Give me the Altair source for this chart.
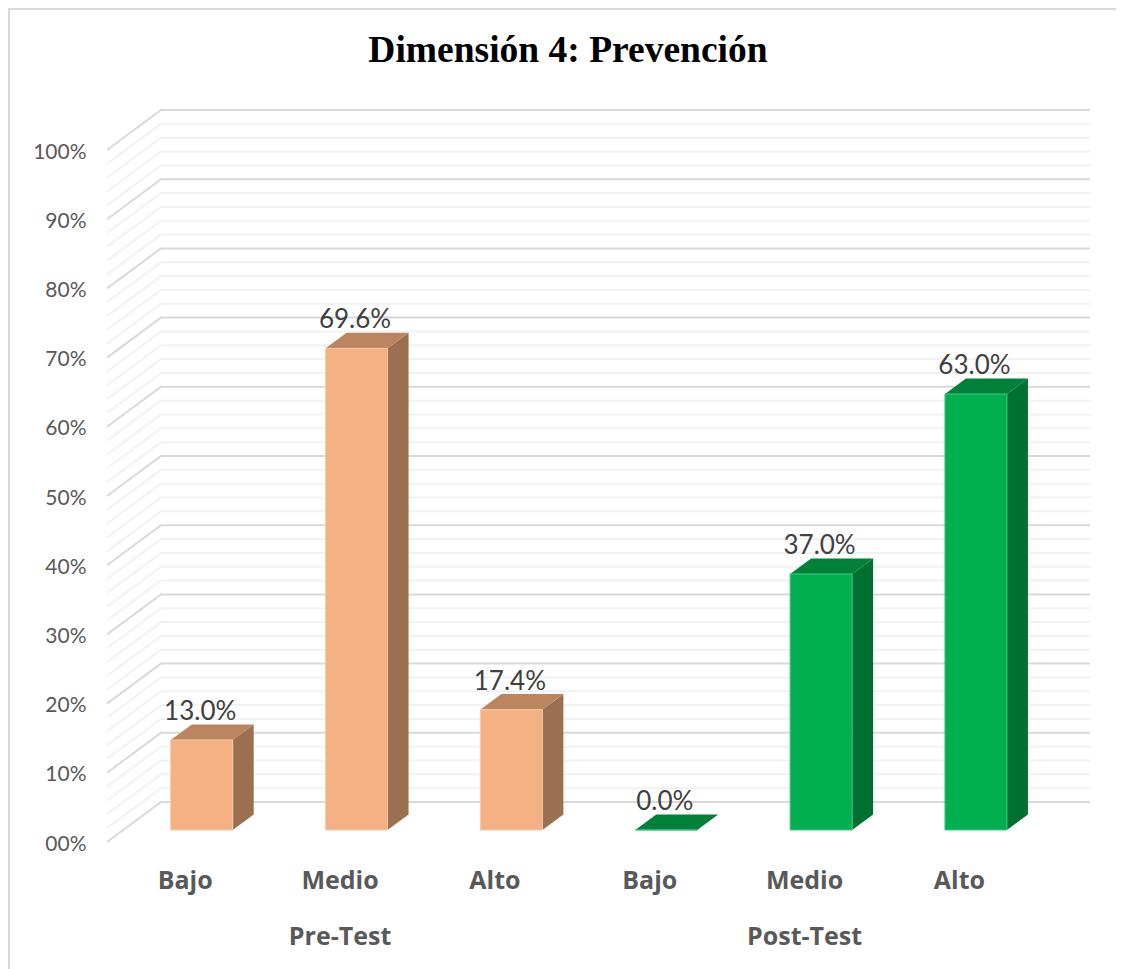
import altair as alt
import pandas as pd

# ---- data ----
groups = ["Pre-Test", "Post-Test"]
levels = ["Bajo", "Medio", "Alto", "Bajo", "Medio", "Alto"]
pre_values = [13.0, 69.6, 17.4]
post_values = [0.0, 37.0, 63.0]
tick_values = [0, 10, 20, 30, 40, 50, 60, 70, 80, 90, 100]
grid_values = list(range(0, 101, 2))

front_colors = ["#F4B183"] * 3 + ["#00B050"] * 3
side_colors = ["#9B7050"] * 3 + ["#007030"] * 3
top_colors = ["#BB8560"] * 3 + ["#008038"] * 3
edge_colors = ["#F8C8A8"] * 3 + ["#40C880"] * 3

# ---- layout of the scales (view is the whole page area) ----
W, H = 1108, 961
PX_X = 154.85   # pixels per category
PX_Y = 6.92     # pixels per percentage point
x0_view = 193.7  # first bar's centre
y0_bars = 822.0  # bars' zero line
y0_axis = 836.0  # axis zero line

x_dom = [-x0_view / PX_X, (W - x0_view) / PX_X]
y_dom_bars = [-(H - y0_bars) / PX_Y, y0_bars / PX_Y]
y_dom_axis = [-(H - y0_axis) / PX_Y, y0_axis / PX_Y]

half_w = 31 / PX_X
dep_x = 21 / PX_X
dep_y = 15.5 / PX_Y
wall_fx = (107 - 201.7) / PX_X
wall_bx = (161 - 201.7) / PX_X
wall_rx = (1090 - 201.7) / PX_X
wall_fy = -12 / PX_Y
wall_by = 28 / PX_Y
label_shift = -16.5 / PX_X

values = pre_values + post_values
bars = pd.DataFrame({
    "i": range(6), "level": levels, "value": values,
    "front": front_colors, "side": side_colors, "top": top_colors, "edge": edge_colors,
})
bars["xl"] = bars.i - half_w
bars["xr"] = bars.i + half_w
bars["base"] = 0.0
bars["label"] = bars.value.map(lambda v: f"{v:.1f}%")
bars["xlab"] = bars.i + label_shift

side_rows, top_rows = [], []
for r in bars.itertuples():
    side_rows += [
        dict(id=r.i, x=r.xr, y=r.value, y2=0.0, c=r.side),
        dict(id=r.i, x=r.xr + dep_x, y=r.value + dep_y, y2=dep_y, c=r.side),
    ]
    top_rows += [
        dict(id=r.i, y=r.value, x=r.xl, x2=r.xr, c=r.top),
        dict(id=r.i, y=r.value + dep_y, x=r.xl + dep_x, x2=r.xr + dep_x, c=r.top),
    ]
side = pd.DataFrame(side_rows)
top = pd.DataFrame(top_rows)

grid_rows = []
for v in grid_values:
    for k, (gx, gy) in enumerate([(wall_fx, wall_fy), (wall_bx, wall_by), (wall_rx, wall_by)]):
        grid_rows.append(dict(level=v, k=k, x=gx, y=v + gy, major=v % 10 == 0))
grid = pd.DataFrame(grid_rows)

group_df = pd.DataFrame({"group": groups, "x": [1 + label_shift, 4 + label_shift]})
ticks_df = pd.DataFrame({"t": tick_values})


def X(f="x"):
    return alt.X(f, type="quantitative", scale=alt.Scale(domain=x_dom), axis=None)


def Y(f="y"):
    return alt.Y(f, type="quantitative", scale=alt.Scale(domain=y_dom_bars), axis=None)


FONT = "Lato"
BOLD_FONT = "Open Sans"
GREY = "#595959"

frame_left = alt.Chart(pd.DataFrame({"a": [0]})).mark_rule(color="#D9D9D9", strokeWidth=2).encode(
    x=alt.value(1), y=alt.value(0), y2=alt.value(H))
frame_top = alt.Chart(pd.DataFrame({"a": [0]})).mark_rule(color="#D9D9D9", strokeWidth=2).encode(
    y=alt.value(1), x=alt.value(0), x2=alt.value(W))

axis_layer = alt.Chart(ticks_df).mark_rule(opacity=0).encode(
    y=alt.Y("t:Q", scale=alt.Scale(domain=y_dom_axis), axis=alt.Axis(
        values=tick_values, orient="left", offset=-80, domain=False, ticks=False, grid=False,
        title=None, labelFont=FONT, labelFontSize=21, labelColor=GREY, labelPadding=2,
        labelExpr="datum.value === 0 ? '00%' : datum.value + '%'")),
)

grid_minor = alt.Chart(grid[~grid.major]).mark_line(color="#F2F2F2", strokeWidth=2).encode(
    x=X(), y=Y(), detail="level:N", order="k:Q")
grid_major = alt.Chart(grid[grid.major]).mark_line(color="#D9D9D9", strokeWidth=2).encode(
    x=X(), y=Y(), detail="level:N", order="k:Q")

side_layer = alt.Chart(side).mark_area().encode(
    x=X(), y=Y(), y2="y2:Q", detail="id:N", color=alt.Color("c:N", scale=None))
top_layer = alt.Chart(top).mark_area(orient="horizontal").encode(
    y=Y(), x=X(), x2="x2:Q", detail="id:N", color=alt.Color("c:N", scale=None))
front_layer = alt.Chart(bars).mark_rect(strokeWidth=1).encode(
    x=X("xl"), x2="xr:Q", y=Y("value"), y2="base:Q",
    color=alt.Color("front:N", scale=None), stroke=alt.Stroke("edge:N", scale=None))

value_labels = alt.Chart(bars).mark_text(
    font=FONT, fontSize=26, color="#404040", baseline="middle", dx=-1.5, dy=-28).encode(
    x=X("i"), y=Y("value"), text="label:N")
level_labels = alt.Chart(bars).mark_text(
    font=BOLD_FONT, fontSize=25, fontWeight="bold", color=GREY, baseline="middle").encode(
    x=X("xlab"), y=alt.value(873), text="level:N")
group_labels = alt.Chart(group_df).mark_text(
    font=BOLD_FONT, fontSize=25, fontWeight="bold", color=GREY, baseline="middle").encode(
    x=X("x"), y=alt.value(929), text="group:N")

chart = alt.layer(
    frame_left, frame_top, grid_minor, grid_major, axis_layer, side_layer, top_layer,
    front_layer, value_labels, level_labels, group_labels,
).resolve_scale(y="independent").properties(
    width=W, height=H, padding=0, autosize=alt.AutoSizeParams(type="none"),
    title=alt.TitleParams("Dimensión 4: Prevención", font="Liberation Serif", fontSize=37.5,
                          fontWeight="bold", color="#000000", anchor="middle", dy=66, dx=6),
).configure_view(stroke=None)

chart.save("out.html", embed_options={"renderer": "svg", "actions": False})
